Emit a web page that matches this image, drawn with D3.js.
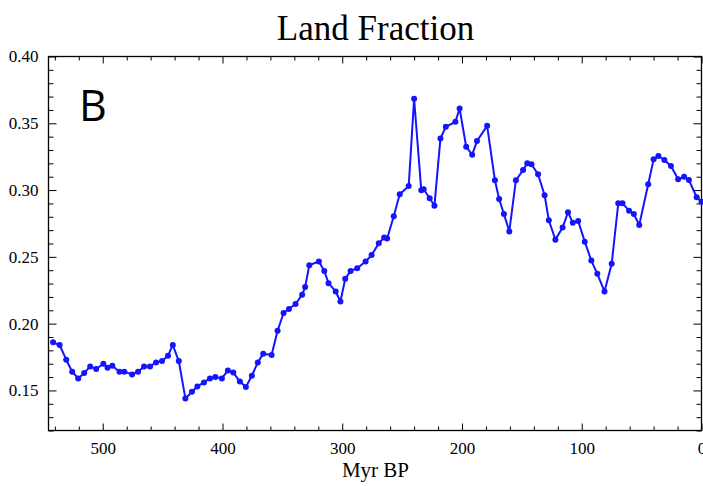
<!DOCTYPE html>
<html>
<head>
<meta charset="utf-8">
<script src="https://cdn.jsdelivr.net/npm/d3@7"></script>
<style>
  body { margin: 0; background: #fff; }
  svg { display: block; }
</style>
</head>
<body>
<svg width="703" height="486"></svg>
<script>
// ages (Myr BP) and land fraction
var ages = [541.5, 536, 530.5, 525.5, 520.5, 515.5, 510.5, 505.5, 499.5, 496,
    492, 486, 482, 475.5, 470.5, 465.5, 460.5, 455.5, 450.5, 445.5,
    441.5, 436.5, 431, 425.5, 421, 415.5, 410.5, 406, 400.5, 395.5,
    391, 385.5, 380.5, 375.5, 370.5, 366, 359, 354, 349, 344.5,
    339, 333.5, 331, 327.5, 319.5, 315, 311.5, 305.5, 301.5, 297.5,
    293, 287.5, 280.5, 275.5, 269.5, 265, 262.5, 257, 252, 244.5,
    240, 234, 232, 227, 223, 218, 213.5, 205.5, 202, 196.5,
    191.5, 187.5, 179, 172.5, 169, 165, 160.5, 155, 149, 145.5,
    142, 136.5, 131, 127.5, 122, 116, 111.5, 107.5, 103, 97.5,
    92, 87, 81, 75, 69.5, 66, 60.5, 56.5, 52, 44.5,
    40, 36, 31, 25.5, 19.5, 14.5, 10.5, 4, 0];
var landFraction = [0.186, 0.184, 0.173, 0.164, 0.159, 0.163, 0.168, 0.166, 0.170, 0.167,
    0.1685, 0.164, 0.164, 0.162, 0.164, 0.168, 0.168, 0.171, 0.172, 0.176,
    0.184, 0.172, 0.144, 0.149, 0.153, 0.156, 0.159, 0.160, 0.159, 0.165,
    0.1635, 0.1566, 0.1526, 0.161, 0.171, 0.1775, 0.1765, 0.1947, 0.208, 0.211,
    0.2147, 0.2216, 0.2274, 0.2438, 0.2465, 0.2395, 0.2303, 0.2241, 0.2166, 0.2336,
    0.2395, 0.2415, 0.2465, 0.2513, 0.2602, 0.2644, 0.2637, 0.2804, 0.2969, 0.3031,
    0.3683, 0.2999, 0.3006, 0.2939, 0.2883, 0.3387, 0.3474, 0.3511, 0.3611, 0.3324,
    0.3265, 0.3367, 0.3481, 0.3073, 0.2933, 0.2821, 0.2690, 0.3073, 0.315, 0.320,
    0.3193, 0.3118, 0.2961, 0.2774, 0.2629, 0.2719, 0.2834, 0.2756, 0.2769, 0.2614,
    0.2472, 0.2373, 0.2241, 0.2448, 0.2901, 0.2901, 0.2846, 0.2821, 0.2739, 0.3043,
    0.323, 0.3255, 0.3225, 0.318, 0.3081, 0.31, 0.3075, 0.2946, 0.2913];

var xMajor = [500, 400, 300, 200, 100, 0];
var yMajor = [0.15, 0.20, 0.25, 0.30, 0.35, 0.40];

var data = ages.map(function (a, i) { return { age: a, v: landFraction[i] }; });

var svg = d3.select("svg"),
    margin = { left: 48.5, top: 56.5, right: 1.5, bottom: 55.5 },
    width = +svg.attr("width"),
    height = +svg.attr("height");

var x = d3.scaleLinear().domain([545.3, 0]).range([margin.left, width - margin.right]);
var y = d3.scaleLinear().domain([0.12, 0.40]).range([height - margin.bottom, margin.top]);

var serif = "'Liberation Serif', 'Times New Roman', serif";

// title
svg.append("text")
    .attr("x", 375.5).attr("y", 40)
    .attr("text-anchor", "middle")
    .style("font-family", serif).style("font-size", "35px")
    .text("Land Fraction");

var xMinor = d3.range(0, 546, 20).filter(function (d) { return d % 100 !== 0; });
var yMinor = d3.range(12, 41).map(function (d) { return d / 100; }).filter(function (d) { return Math.round(d * 100) % 5 !== 0; });

function styleAxis(g) {
    g.attr("font-family", serif).attr("font-size", 17);
    g.selectAll("path").remove();
    g.selectAll("line").attr("stroke", "#000").attr("stroke-width", 1);
    g.selectAll("text").style("font-family", serif).style("font-size", "17px").attr("fill", "#000");
}

var yb = height - margin.bottom, yt = margin.top, xl = margin.left, xr = width - margin.right;

// bottom
svg.append("g").attr("transform", "translate(0," + yb + ")")
    .call(d3.axisBottom(x).tickValues(xMajor).tickSizeInner(-7).tickPadding(11).tickFormat(d3.format("d")))
    .call(styleAxis);
svg.append("g").attr("transform", "translate(0," + yb + ")")
    .call(d3.axisBottom(x).tickValues(xMinor).tickSizeInner(-4).tickFormat(""))
    .call(styleAxis);
// top
svg.append("g").attr("transform", "translate(0," + yt + ")")
    .call(d3.axisTop(x).tickValues(xMajor).tickSizeInner(-7).tickFormat(""))
    .call(styleAxis);
svg.append("g").attr("transform", "translate(0," + yt + ")")
    .call(d3.axisTop(x).tickValues(xMinor).tickSizeInner(-4).tickFormat(""))
    .call(styleAxis);
// left
svg.append("g").attr("transform", "translate(" + xl + ",0)")
    .call(d3.axisLeft(y).tickValues(yMajor).tickSizeInner(-8).tickPadding(10).tickFormat(d3.format(".2f")))
    .call(styleAxis);
svg.append("g").attr("transform", "translate(" + xl + ",0)")
    .call(d3.axisLeft(y).tickValues(yMinor).tickSizeInner(-5).tickFormat(""))
    .call(styleAxis);
// right
svg.append("g").attr("transform", "translate(" + xr + ",0)")
    .call(d3.axisRight(y).tickValues(yMajor).tickSizeInner(-8).tickFormat(""))
    .call(styleAxis);
svg.append("g").attr("transform", "translate(" + xr + ",0)")
    .call(d3.axisRight(y).tickValues(yMinor).tickSizeInner(-5).tickFormat(""))
    .call(styleAxis);

// frame
svg.append("rect")
    .attr("x", xl).attr("y", yt)
    .attr("width", xr - xl).attr("height", yb - yt)
    .attr("fill", "none").attr("stroke", "#000").attr("stroke-width", 1.3);

// axis label
svg.append("text")
    .attr("x", 375.5).attr("y", 477)
    .attr("text-anchor", "middle")
    .style("font-family", serif).style("font-size", "21px")
    .text("Myr BP");

// panel letter
svg.append("text")
    .attr("x", 79).attr("y", 121)
    .style("font-family", "'Open Sans', 'Noto Sans', sans-serif").style("font-size", "43px")
    .text("B");

// series
var line = d3.line().x(function (d) { return x(d.age); }).y(function (d) { return y(d.v); });

svg.append("path")
    .datum(data)
    .attr("fill", "none")
    .attr("stroke", "#1414ff")
    .attr("stroke-width", 2)
    .attr("stroke-linejoin", "round")
    .attr("d", line);

svg.append("g").selectAll("circle")
    .data(data)
    .enter().append("circle")
    .attr("cx", function (d) { return x(d.age); })
    .attr("cy", function (d) { return y(d.v); })
    .attr("r", 3)
    .attr("fill", "#1414ff");
</script>
</body>
</html>
